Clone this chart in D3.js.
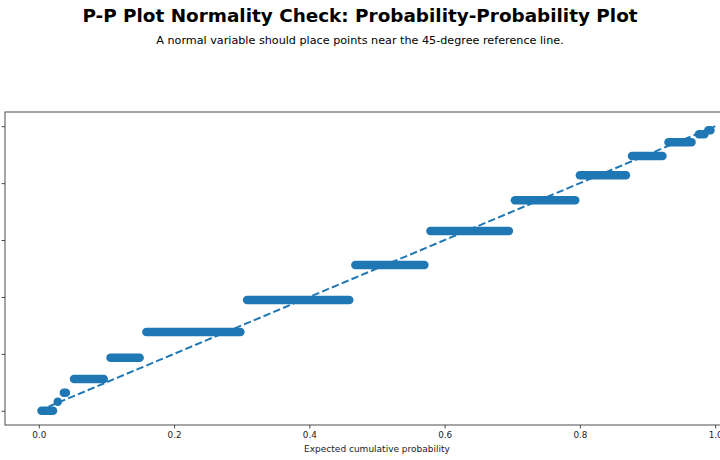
<!DOCTYPE html>
<html>
<head>
<meta charset="utf-8">
<script src="https://cdn.jsdelivr.net/npm/d3@7"></script>
<style>
  body { margin: 0; background: #fff; }
  svg { display: block; font-family: "DejaVu Sans", sans-serif; }
</style>
</head>
<body>
<svg id="chart" width="720" height="460"></svg>
<script>
// observed levels (y) and the expected-probability span (x) that each level covers
var levelY = [0.0, 0.032, 0.063, 0.112, 0.186, 0.277, 0.389, 0.512, 0.632, 0.740, 0.828, 0.895, 0.944, 0.972, 0.986];
var xStart = [0.004, 0.028, 0.037, 0.052, 0.106, 0.159, 0.308, 0.468, 0.579, 0.704, 0.800, 0.877, 0.931, 0.976, 0.990];
var xEnd   = [0.021, 0.028, 0.040, 0.096, 0.149, 0.298, 0.459, 0.570, 0.695, 0.793, 0.868, 0.922, 0.965, 0.984, 0.993];
var refLine = [0, 1];
var tickVals = [0, 0.2, 0.4, 0.6, 0.8, 1.0];

var blue = '#1f77b4';
var svg = d3.select('#chart');

// axes box (right edge falls outside the window, same as the reference)
var boxL = 5, boxR = 749, boxT = 112, boxB = 425;

var x = d3.scaleLinear().domain([-0.05, 1.05]).range([boxL, boxR]);
var y = d3.scaleLinear().domain([-0.05, 1.05]).range([boxB, boxT]);

// titles
svg.append('text')
  .attr('x', 360).attr('y', 22)
  .attr('text-anchor', 'middle')
  .style('font-size', '18.4px').style('font-weight', 'bold')
  .text('P-P Plot Normality Check: Probability-Probability Plot');

svg.append('text')
  .attr('x', 360).attr('y', 44)
  .attr('text-anchor', 'middle')
  .style('font-size', '11.2px')
  .text('A normal variable should place points near the 45-degree reference line.');

// steps, each one drawn as a fat round-capped segment
var steps = levelY.map(function (v, i) { return { y: v, x0: xStart[i], x1: xEnd[i] }; });

svg.append('g').selectAll('line')
  .data(steps)
  .enter().append('line')
  .attr('x1', function (d) { return x(d.x0); })
  .attr('x2', function (d) { return x(d.x1); })
  .attr('y1', function (d) { return y(d.y); })
  .attr('y2', function (d) { return y(d.y); })
  .attr('stroke', blue)
  .attr('stroke-width', 8.5)
  .attr('stroke-linecap', 'round');

// 45 degree reference
svg.append('line')
  .attr('x1', x(refLine[0])).attr('y1', y(refLine[0]))
  .attr('x2', x(refLine[1])).attr('y2', y(refLine[1]))
  .attr('stroke', blue)
  .attr('stroke-width', 2)
  .attr('stroke-dasharray', '7.4,3.2');

// axes
var xAxis = d3.axisBottom(x).tickValues(tickVals).tickFormat(d3.format('.1f')).tickSize(3.5).tickPadding(3.5);
// y labels sit left of the window in the reference, so only the ticks show
var yAxis = d3.axisLeft(y).tickValues(tickVals).tickFormat('').tickSize(3.5);

var gx = svg.append('g').attr('transform', 'translate(0,' + boxB + ')').call(xAxis);
var gy = svg.append('g').attr('transform', 'translate(' + boxL + ',0)').call(yAxis);

[gx, gy].forEach(function (g) {
  g.select('.domain').remove();
  g.selectAll('line').attr('stroke', '#222').attr('stroke-width', 0.8);
  g.selectAll('text').attr('fill', '#222').style('font-size', '8.8px').style('font-family', '"DejaVu Sans", sans-serif');
});

// frame
svg.append('rect')
  .attr('x', boxL).attr('y', boxT)
  .attr('width', boxR - boxL).attr('height', boxB - boxT)
  .attr('fill', 'none').attr('stroke', '#222').attr('stroke-width', 0.8);

// x axis title
svg.append('text')
  .attr('x', (boxL + boxR) / 2).attr('y', 452)
  .attr('text-anchor', 'middle')
  .style('font-size', '9px').attr('fill', '#222')
  .text('Expected cumulative probability');
</script>
</body>
</html>
